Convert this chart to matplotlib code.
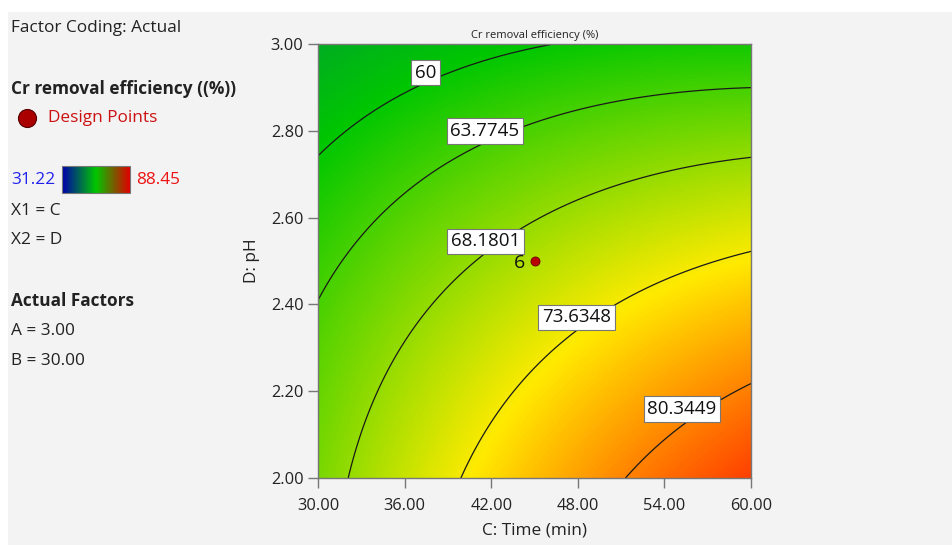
import numpy as np
import matplotlib.pyplot as plt
from matplotlib.colors import LinearSegmentedColormap
from matplotlib.patches import Rectangle

plt.rcParams['font.family'] = ['Open Sans', 'DejaVu Sans']

# quadratic model, coded units: x1 = C (time), x2 = D (pH)
coefs = {"b0": 69.81, "C": 5.64, "D": -8.51, "CD": -3.29, "C2": -1.29, "D2": -1.50}

time_range = [30.0, 60.0]
ph_range = [2.0, 3.0]
contour_levels = [60, 63.7745, 68.1801, 73.6348, 80.3449]
level_text = ["60", "63.7745", "68.1801", "73.6348", "80.3449"]
resp_min, resp_max = 31.22, 88.45

design_time = [45.0]
design_ph = [2.5]
design_reps = ["6"]

xticks = [30, 36, 42, 48, 54, 60]
yticks = [2.0, 2.2, 2.4, 2.6, 2.8, 3.0]

# where the contour labels sit (data coords)
label_pos = [(37.45, 2.934), (41.57, 2.80), (41.6, 2.545), (47.91, 2.370), (55.22, 2.159)]


def response(C, D):
    x1 = (C - 45.0) / 15.0
    x2 = (D - 2.5) / 0.5
    return (coefs["b0"] + coefs["C"] * x1 + coefs["D"] * x2 + coefs["CD"] * x1 * x2
            + coefs["C2"] * x1 ** 2 + coefs["D2"] * x2 ** 2)


cmap = LinearSegmentedColormap.from_list(
    "dx", [(0.0, (0, 0, 1)), (0.5, (0, 0.78, 0)), (0.75, (1, 0.92, 0)), (1.0, (1, 0, 0))])
bar_cmap = LinearSegmentedColormap.from_list(
    "dxbar", [(0.0, (0, 0, 0.67)), (0.5, (0, 0.78, 0)), (1.0, (0.88, 0, 0))])

fig = plt.figure(figsize=(9.52, 5.45), dpi=100, facecolor="white")

# background / side panel drawn in pixel coords
bg = fig.add_axes([0, 0, 1, 1])
bg.set_xlim(0, 952)
bg.set_ylim(545, 0)
bg.axis("off")
bg.set_zorder(-1)
bg.add_patch(Rectangle((8, 12), 944, 533, facecolor="#f3f3f3", edgecolor="none"))

txt = "#222222"
fs = 12.4
bg.text(11, 28, "Factor Coding: Actual", fontsize=fs, color=txt, va="center")
bg.text(11, 89, "Cr removal efficiency ((%))", fontsize=fs, fontweight="bold", color=txt, va="center")
bg.plot([27], [118], "o", ms=13, color="#aa0000", mec="#550000", mew=0.8)
bg.text(48, 118, "Design Points", fontsize=fs, color="#cc1111", va="center")
bg.text(11, 180, "%.2f" % resp_min, fontsize=fs, color="#2222ee", va="center")
bg.text(136, 180, "%.2f" % resp_max, fontsize=fs, color="#ee1111", va="center")
bg.imshow(np.linspace(0, 1, 200)[None, :], cmap=bar_cmap, aspect="auto",
          extent=(62, 130, 193, 166), zorder=2)
bg.add_patch(Rectangle((62, 166), 68, 27, fill=False, edgecolor="#777777", lw=0.8, zorder=3))
bg.text(11, 211, "X1 = C", fontsize=fs, color=txt, va="center")
bg.text(11, 240, "X2 = D", fontsize=fs, color=txt, va="center")
bg.text(11, 301, "Actual Factors", fontsize=fs, fontweight="bold", color=txt, va="center")
bg.text(11, 331, "A = 3.00", fontsize=fs, color=txt, va="center")
bg.text(11, 361, "B = 30.00", fontsize=fs, color=txt, va="center")

# main contour plot
ax = fig.add_axes([318 / 952, 1 - 478 / 545, 433 / 952, 434 / 545])
C = np.linspace(time_range[0], time_range[1], 300)
D = np.linspace(ph_range[0], ph_range[1], 300)
CC, DD = np.meshgrid(C, D)
Z = response(CC, DD)

ax.imshow(Z, origin="lower", extent=(time_range[0], time_range[1], ph_range[0], ph_range[1]),
          aspect="auto", cmap=cmap, vmin=resp_min, vmax=resp_max, interpolation="bilinear")
ax.contour(CC, DD, Z, levels=contour_levels, colors="#1a1a1a", linewidths=0.9)

for (px, py), s in zip(label_pos, level_text):
    ax.text(px, py, s, fontsize=13.5, color="#111111", ha="center", va="center", zorder=5,
            bbox=dict(boxstyle="square,pad=0.2", facecolor="white", edgecolor="#777777", lw=0.8))

ax.plot(design_time, design_ph, "o", ms=6.5, color="#bb0000", mec="#660000", mew=0.6, zorder=6)
for x, y, n in zip(design_time, design_ph, design_reps):
    ax.annotate(n, (x, y), xytext=(-11, -1.5), textcoords="offset points", fontsize=14,
                color="#111111", ha="center", va="center", zorder=6)

ax.set_xlim(time_range)
ax.set_ylim(ph_range)
ax.set_xticks(xticks)
ax.set_yticks(yticks)
ax.set_xticklabels(["%.2f" % v for v in xticks])
ax.set_yticklabels(["%.2f" % v for v in yticks])
ax.tick_params(direction="out", length=7.5, width=1, color="#777777", labelsize=11.8,
               labelcolor=txt, pad=3)
ax.tick_params(axis="x", pad=7)
for sp in ax.spines.values():
    sp.set_color("#777777")
    sp.set_linewidth(1)

ax.set_title("Cr removal efficiency (%)", fontsize=8, color=txt, pad=4)
ax.set_xlabel("C: Time (min)", fontsize=fs, color=txt)
ax.set_ylabel("D: pH", fontsize=fs, color=txt)
ax.xaxis.set_label_coords(0.5, -0.103)
ax.yaxis.set_label_coords(-0.134, 0.5)

fig.savefig("out.png", dpi=100, facecolor=fig.get_facecolor())
